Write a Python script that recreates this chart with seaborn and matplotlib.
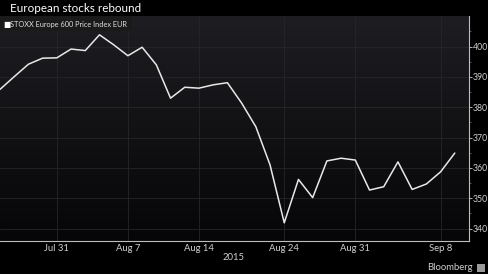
import numpy as np
import pandas as pd
import matplotlib
matplotlib.use("Agg")
import matplotlib.pyplot as plt
import seaborn as sns
from matplotlib.colors import LinearSegmentedColormap

# Trading days Jul 27 - Sep 9, 2015
dates = pd.bdate_range("2015-07-27", "2015-09-09")
values = [385.9, 390.1, 394.2, 396.2, 396.3, 399.2, 398.7, 403.9, 400.6, 397.0,
          399.8, 394.0, 383.0, 386.6, 386.3, 387.4, 388.1, 381.4, 373.6, 361.0,
          341.9, 356.2, 350.2, 362.3, 363.2, 362.6, 352.7, 353.8, 362.0, 352.9,
          354.7, 358.7, 364.9]
tick_labels = ["Jul 31", "Aug 7", "Aug 14", "Aug 24", "Aug 31", "Sep 8"]
tick_dates = ["2015-07-31", "2015-08-07", "2015-08-14", "2015-08-24", "2015-08-31", "2015-09-08"]
y_ticks = [340, 350, 360, 370, 380, 390, 400]
series_name = "STOXX Europe 600 Price Index EUR"
title = "European stocks rebound"

df = pd.DataFrame({"idx": np.arange(len(dates)), "date": dates, "value": values})
date_to_idx = {d.strftime("%Y-%m-%d"): i for i, d in enumerate(dates)}
tick_pos = [date_to_idx[d] for d in tick_dates]

sns.set_style("dark")
plt.rcParams["font.family"] = ["Lato", "DejaVu Sans"]

fig = plt.figure(figsize=(4.88, 2.74), dpi=100, facecolor="black")
ax = fig.add_axes([0.0, (274 - 241) / 274, 469 / 488, (241 - 16) / 274])

xlim = (0, 33)
ylim = (335.9, 410.1)
grad = np.linspace(0, 1, 256).reshape(-1, 1)
cmap = LinearSegmentedColormap.from_list("bg", ["#1e1e22", "#060608"])
ax.imshow(grad, extent=[xlim[0], xlim[1], ylim[0], ylim[1]], origin="upper",
          aspect="auto", cmap=cmap, zorder=0)

sns.lineplot(data=df, x="idx", y="value", ax=ax, color="#e8e8e8", linewidth=1.1, zorder=3)

ax.set_xlim(*xlim)
ax.set_ylim(*ylim)
ax.set_xlabel("")
ax.set_ylabel("")

ax.set_xticks(tick_pos)
ax.set_xticklabels(tick_labels)
ax.set_xticks(np.arange(len(dates)), minor=True)
ax.set_yticks(y_ticks)
ax.set_yticks(np.arange(340, 410, 5), minor=True)
ax.yaxis.tick_right()

ax.tick_params(axis="x", which="major", colors="#cfcfcf", labelsize=6.8, length=2, width=0.6, pad=1, direction="inout")
ax.tick_params(axis="x", which="minor", colors="#888888", length=1.5, width=0.5, direction="in")
ax.tick_params(axis="y", which="major", colors="#cfcfcf", labelsize=6.3, length=2, width=0.6, pad=0.5, right=True, left=False)
ax.tick_params(axis="y", which="minor", colors="#777777", length=1.2, width=0.5, right=True, left=False)

ax.grid(True, which="major", color="#26262a", linewidth=0.6)
for line in ax.get_xgridlines() + ax.get_ygridlines():
    line.set_zorder(1)

for s in ["top", "left"]:
    ax.spines[s].set_visible(False)
for s in ["bottom", "right"]:
    ax.spines[s].set_visible(True)
    ax.spines[s].set_color("#bdbdbd")
    ax.spines[s].set_linewidth(0.8)

# Legend box
fig.patches.append(plt.Rectangle((0, 1 - 31 / 274), 132 / 488, 15 / 274, transform=fig.transFigure,
                                 facecolor="#1a1a1a", edgecolor="none", zorder=5))
fig.text(3 / 488, 1 - 24 / 274, "\u25a0", color="white", fontsize=5.5, va="center", ha="left",
         family=["DejaVu Sans"], zorder=6)
fig.text(10 / 488, 1 - 24 / 274, series_name, color="#dddddd", fontsize=5.3, va="center", ha="left", zorder=6)

fig.text(10 / 488, 1 - 8 / 274, title, color="white", fontsize=8.4, va="center", ha="left")
fig.text(234 / 488, 1 - 258 / 274, "2015", color="#cfcfcf", fontsize=6.8, va="center", ha="center")
fig.text(473 / 488, 1 - 268 / 274, "Bloomberg", color="#cfcfcf", fontsize=6.8, va="center", ha="right")
fig.patches.append(plt.Rectangle((477 / 488, 1 - 272 / 274), 8 / 488, 8 / 274, transform=fig.transFigure,
                                 facecolor="#9a9a9a", edgecolor="none"))

fig.savefig("out.png", dpi=100, facecolor="black")
